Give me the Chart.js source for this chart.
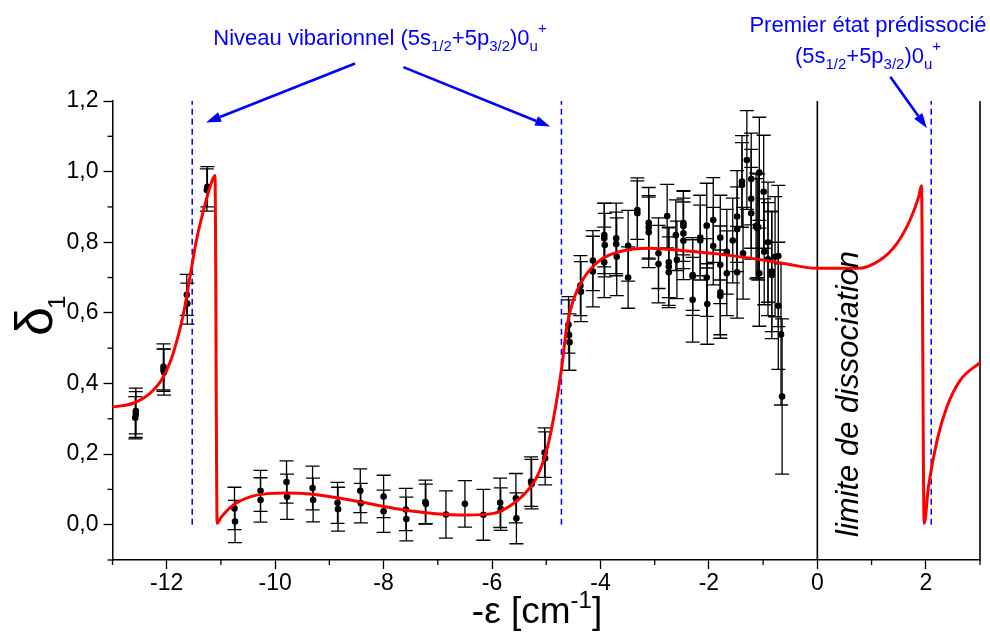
<!DOCTYPE html>
<html><head><meta charset="utf-8">
<script src="https://cdn.jsdelivr.net/npm/chart.js@4.4.0/dist/chart.umd.min.js"></script>
<style>html,body{margin:0;padding:0;background:#fff}canvas{display:block}</style>
</head><body><canvas id="c" width="990" height="635"></canvas>
<script>
// ---- measured data points (x = -epsilon, y = delta1, symmetric error) ----
const ptX = [-12.57,-12.57,-12.58,-12.06,-12.06,-12.05,-11.63,-11.62,-11.25,-11.26,
  -10.75,-10.74,-10.27,-10.27,-9.79,-9.78,-9.31,-9.30,-8.85,-8.84,-8.43,-8.42,-8.0,-8.0,
  -7.59,-7.58,-7.23,-7.22,-6.85,-6.50,-6.16,-5.85,-5.84,-5.56,-5.55,-5.28,-5.27,-5.03,-5.02,
  -4.59,-4.58,-4.57,-4.37,-4.36,-4.14,-4.14,-3.93,-3.93,-3.92,-3.93,-3.71,-3.71,-3.70,-3.49,-3.49,
  -3.32,-3.32,-3.11,-3.11,-3.11,-2.93,-2.93,-2.77,-2.74,-2.74,-2.74,-2.61,-2.59,-2.47,-2.47,-2.47,-2.47,
  -2.30,-2.30,-2.30,-2.16,-2.16,-2.04,-2.04,-2.03,-1.92,-1.92,-1.79,-1.79,-1.79,-1.79,-1.67,-1.67,
  -1.56,-1.48,-1.48,-1.48,-1.39,-1.39,-1.37,-1.30,-1.22,-1.22,-1.22,-1.13,-1.11,-1.09,-1.07,-1.07,
  -0.99,-0.98,-0.91,-0.91,-0.84,-0.84,-0.78,-0.72,-0.72,-0.67,-0.65];
const ptY = [0.322,0.312,0.303,0.447,0.438,0.432,0.651,0.626,0.957,0.948,
  0.046,0.009,0.096,0.070,0.121,0.079,0.104,0.070,0.062,0.044,0.096,0.061,0.080,0.038,
  0.043,0.016,0.064,0.059,0.029,0.059,0.028,0.062,0.044,0.075,0.018,0.122,0.115,0.204,0.188,
  0.566,0.537,0.517,0.677,0.660,0.748,0.717,0.820,0.811,0.792,0.743,0.811,0.795,0.759,0.790,0.700,
  0.891,0.882,0.855,0.842,0.828,0.769,0.738,0.874,0.743,0.731,0.715,0.820,0.750,0.854,0.846,0.825,0.804,
  0.707,0.703,0.637,0.813,0.805,0.847,0.700,0.625,0.863,0.789,0.813,0.736,0.658,0.648,0.773,0.712,
  0.805,0.873,0.837,0.715,0.972,0.962,0.769,1.033,0.979,0.923,0.882,0.846,0.840,0.843,0.997,0.712,
  0.943,0.773,0.800,0.752,0.717,0.707,0.759,0.761,0.620,0.539,0.363];
const ptErr = [0.065,0.065,0.060,0.065,0.060,0.065,0.058,0.058,0.057,0.060,
  0.060,0.060,0.058,0.063,0.060,0.064,0.062,0.062,0.058,0.062,0.062,0.056,0.060,0.060,
  0.060,0.062,0.062,0.056,0.067,0.066,0.072,0.070,0.060,0.070,0.072,0.070,0.070,0.070,0.075,
  0.080,0.100,0.080,0.085,0.085,0.085,0.100,0.090,0.100,0.090,0.100,0.100,0.090,0.110,0.100,0.087,
  0.083,0.100,0.100,0.090,0.100,0.100,0.110,0.090,0.100,0.110,0.100,0.100,0.110,0.090,0.100,0.100,0.110,
  0.100,0.110,0.120,0.120,0.100,0.120,0.110,0.114,0.120,0.110,0.120,0.110,0.120,0.120,0.120,0.120,
  0.120,0.130,0.120,0.130,0.130,0.120,0.130,0.140,0.130,0.140,0.130,0.150,0.140,0.150,0.157,0.150,
  0.160,0.150,0.170,0.160,0.170,0.180,0.170,0.200,0.180,0.200,0.220];

// ---- fitted theoretical curve ----
const curveX = [-13,-12.62,-12.31,-12.06,-11.88,-11.69,-11.57,-11.45,-11.32,-11.2,-11.11,-11.07,-11.0,
  -10.77,-10.46,-10.15,-9.79,-9.30,-8.62,-7.70,-7.08,-6.46,-5.97,-5.67,-5.42,-5.17,-4.99,-4.87,-4.72,
  -4.62,-4.50,-4.31,-4.0,-3.70,-3.39,-3.08,-2.47,-1.85,-1.24,-0.62,-0.01,0.73,1.16,1.47,1.71,1.87,1.92,
  1.97,2.05,2.21,2.39,2.64,3.0];
const curveY = [0.333,0.344,0.372,0.419,0.486,0.599,0.703,0.807,0.891,0.957,0.989,0.004,0.020,
  0.056,0.079,0.088,0.090,0.086,0.070,0.044,0.032,0.0275,0.032,0.053,0.084,0.136,0.212,0.297,0.44,
  0.561,0.637,0.698,0.750,0.771,0.781,0.783,0.776,0.767,0.755,0.740,0.726,0.726,0.750,0.797,0.863,0.929,0.960,
  0.004,0.108,0.240,0.334,0.410,0.459];

// ---- reference lines ----
const resonanceX = [-11.53, -4.72, 2.10];   // dashed blue levels
const resonanceY = [0, 1.2];
const frameX = [0, 3];                      // dissociation limit and right frame
const frameY = [-0.1, 1.2];

// ---- tick labels ----
const xTickValues = [-12,-10,-8,-6,-4,-2,0,2];
const xTickLabels = ['-12','-10','-8','-6','-4','-2','0','2'];
const yTickValues = [0,0.2,0.4,0.6,0.8,1.0,1.2];
const yTickLabels = ['0,0','0,2','0,4','0,6','0,8','1,0','1,2'];

const FONT = '"Liberation Sans", Arial, Helvetica, sans-serif';
const BLUE = '#0000ff';

function idxOf(arr, v){ for(let i=0;i<arr.length;i++){ if(Math.abs(arr[i]-v)<1e-6) return i; } return -1; }

const datasets = [];
datasets.push({ label:'fit', data: curveX.map((x,i)=>({x, y:curveY[i]})), showLine:true,
  borderColor:'#ff0000', borderWidth:3, pointRadius:0, cubicInterpolationMode:'monotone', order:0, clip:false });
datasets.push({ label:'mesures', data: ptX.map((x,i)=>({x, y:ptY[i]})), showLine:false,
  pointRadius:3.3, pointBackgroundColor:'#000', pointBorderWidth:0, order:1 });
const PTS = 1;
resonanceX.forEach(rx => datasets.push({ data: resonanceY.map(y=>({x:rx, y})), showLine:true,
  borderColor:BLUE, borderWidth:1.5, borderDash:[6,4], pointRadius:0, order:3, clip:false }));
frameX.forEach(fx => datasets.push({ data: frameY.map(y=>({x:fx, y})), showLine:true,
  borderColor:'#000', borderWidth:1.6, pointRadius:0, order:3, clip:false }));

function richText(ctx, parts, cx, baseY, baseSize, color){
  ctx.save(); ctx.fillStyle = color; ctx.textBaseline='alphabetic'; ctx.textAlign='left';
  let w = 0;
  parts.forEach(p => { ctx.font = (p.size||baseSize)+'px '+FONT; w += ctx.measureText(p.t).width; });
  let x = cx - w/2;
  parts.forEach(p => { ctx.font = (p.size||baseSize)+'px '+FONT; ctx.fillText(p.t, x, baseY + (p.dy||0)); x += ctx.measureText(p.t).width; });
  ctx.restore();
}
function arrow(ctx, x1,y1,x2,y2){
  const a = Math.atan2(y2-y1, x2-x1), L=15, W=5;
  const bx = x2 - L*Math.cos(a), by = y2 - L*Math.sin(a);
  ctx.save(); ctx.strokeStyle=BLUE; ctx.fillStyle=BLUE; ctx.lineWidth=2.6;
  ctx.beginPath(); ctx.moveTo(x1,y1); ctx.lineTo(bx,by); ctx.stroke();
  ctx.beginPath(); ctx.moveTo(x2,y2);
  ctx.lineTo(bx + W*Math.sin(a), by - W*Math.cos(a));
  ctx.lineTo(bx - W*Math.sin(a), by + W*Math.cos(a)); ctx.closePath(); ctx.fill();
  ctx.restore();
}

const decor = {
  id:'decor',
  beforeDatasetDraw(chart, args){
    if(args.index !== PTS) return;
    const {ctx, scales:{x, y}} = chart;
    ctx.save(); ctx.strokeStyle='#000'; ctx.lineWidth=1.3;
    for(let i=0;i<ptX.length;i++){
      const px = x.getPixelForValue(ptX[i]);
      const t = y.getPixelForValue(ptY[i]+ptErr[i]);
      const b = y.getPixelForValue(ptY[i]-ptErr[i]);
      ctx.beginPath();
      ctx.moveTo(px,t); ctx.lineTo(px,b);
      ctx.moveTo(px-7,t); ctx.lineTo(px+7,t);
      ctx.moveTo(px-7,b); ctx.lineTo(px+7,b);
      ctx.stroke();
    }
    ctx.restore();
  },
  afterDraw(chart){
    const {ctx, scales:{x, y}, chartArea:ca} = chart;
    // minor ticks
    ctx.save(); ctx.strokeStyle='#000'; ctx.lineWidth=1.3;
    for(let v=-13; v<=3; v++){
      if(idxOf(xTickValues, v) >= 0) continue;
      const px = x.getPixelForValue(v);
      ctx.beginPath(); ctx.moveTo(px, ca.bottom); ctx.lineTo(px, ca.bottom+5); ctx.stroke();
    }
    for(let k=-1; k<=12; k++){
      const v = k/10;
      if(idxOf(yTickValues, v) >= 0) continue;
      const py = y.getPixelForValue(v);
      ctx.beginPath(); ctx.moveTo(ca.left, py); ctx.lineTo(ca.left-5, py); ctx.stroke();
    }
    ctx.restore();

    // y axis title: delta_1 (rotated)
    ctx.save(); ctx.fillStyle='#000'; ctx.translate(52, 336); ctx.rotate(-Math.PI/2);
    ctx.textAlign='left'; ctx.textBaseline='alphabetic';
    ctx.font = '52px '+FONT; ctx.fillText('δ', 0, 0);
    const dw = ctx.measureText('δ').width;
    ctx.font = '24px '+FONT; ctx.fillText('1', dw-2, 13);
    ctx.restore();

    // x axis title
    richText(ctx, [{t:'-ε [cm'},{t:'-1', size:24, dy:-15},{t:']'}], 537, 623, 37, '#000');

    // vertical label
    ctx.save(); ctx.fillStyle='#000'; ctx.translate(858, 394); ctx.rotate(-Math.PI/2);
    ctx.textAlign='center'; ctx.textBaseline='alphabetic';
    ctx.font = 'italic 31px '+FONT; ctx.fillText('limite de dissociation', 0, 0);
    ctx.restore();

    // blue annotations
    richText(ctx, [{t:'Niveau vibarionnel (5s'},{t:'1/2',size:15,dy:6},{t:'+5p'},{t:'3/2',size:15,dy:6},{t:')0'},{t:'u',size:15,dy:6},{t:'+',size:15,dy:-12}], 380, 45, 22, BLUE);
    richText(ctx, [{t:'Premier état prédissocié'}], 868, 32, 22, BLUE);
    richText(ctx, [{t:'(5s'},{t:'1/2',size:15,dy:6},{t:'+5p'},{t:'3/2',size:15,dy:6},{t:')0'},{t:'u',size:15,dy:6},{t:'+',size:15,dy:-12}], 868, 63, 22, BLUE);

    const P = (vx, vy) => [x.getPixelForValue(vx), y.getPixelForValue(vy)];
    let a = P(-8.526, 1.306), b = P(-11.275, 1.139); arrow(ctx, a[0],a[1],b[0],b[1]);
    a = P(-7.635, 1.296); b = P(-4.928, 1.1275); arrow(ctx, a[0],a[1],b[0],b[1]);
    a = P(1.345, 1.269); b = P(2.022, 1.123); arrow(ctx, a[0],a[1],b[0],b[1]);
  }
};

new Chart(document.getElementById('c'), {
  type:'scatter',
  data:{ datasets },
  plugins:[decor],
  options:{
    responsive:false, animation:false, devicePixelRatio:1,
    layout:{ padding:{ top:101, right:10, left:0, bottom:0 } },
    plugins:{ legend:{display:false}, tooltip:{enabled:false}, title:{display:false} },
    scales:{
      x:{ type:'linear', min:-13, max:3,
        afterFit(s){ s.height = 75; },
        border:{ display:true, color:'#000', width:1.5 },
        grid:{ display:true, drawOnChartArea:false, drawTicks:true, tickLength:9, tickWidth:1.3,
               tickColor:(c)=> (c.tick && idxOf(xTickValues, c.tick.value)>=0) ? '#000' : 'rgba(0,0,0,0)' },
        ticks:{ stepSize:1, autoSkip:false, maxRotation:0, padding:1, color:'#000',
                font:{ family:FONT, size:23 },
                callback:(v)=>{ const i = idxOf(xTickValues, v); return i>=0 ? xTickLabels[i] : ''; } } },
      y:{ type:'linear', min:-0.1, max:1.2,
        afterFit(s){ s.width = 112.5; },
        border:{ display:true, color:'#000', width:1.5 },
        grid:{ display:true, drawOnChartArea:false, drawTicks:true, tickLength:9, tickWidth:1.3,
               tickColor:(c)=> (c.tick && idxOf(yTickValues, c.tick.value)>=0) ? '#000' : 'rgba(0,0,0,0)' },
        ticks:{ stepSize:0.1, autoSkip:false, padding:5, color:'#000',
                font:{ family:FONT, size:23 },
                callback:(v)=>{ const i = idxOf(yTickValues, v); return i>=0 ? yTickLabels[i] : ''; } } }
    }
  }
});
</script></body></html>
